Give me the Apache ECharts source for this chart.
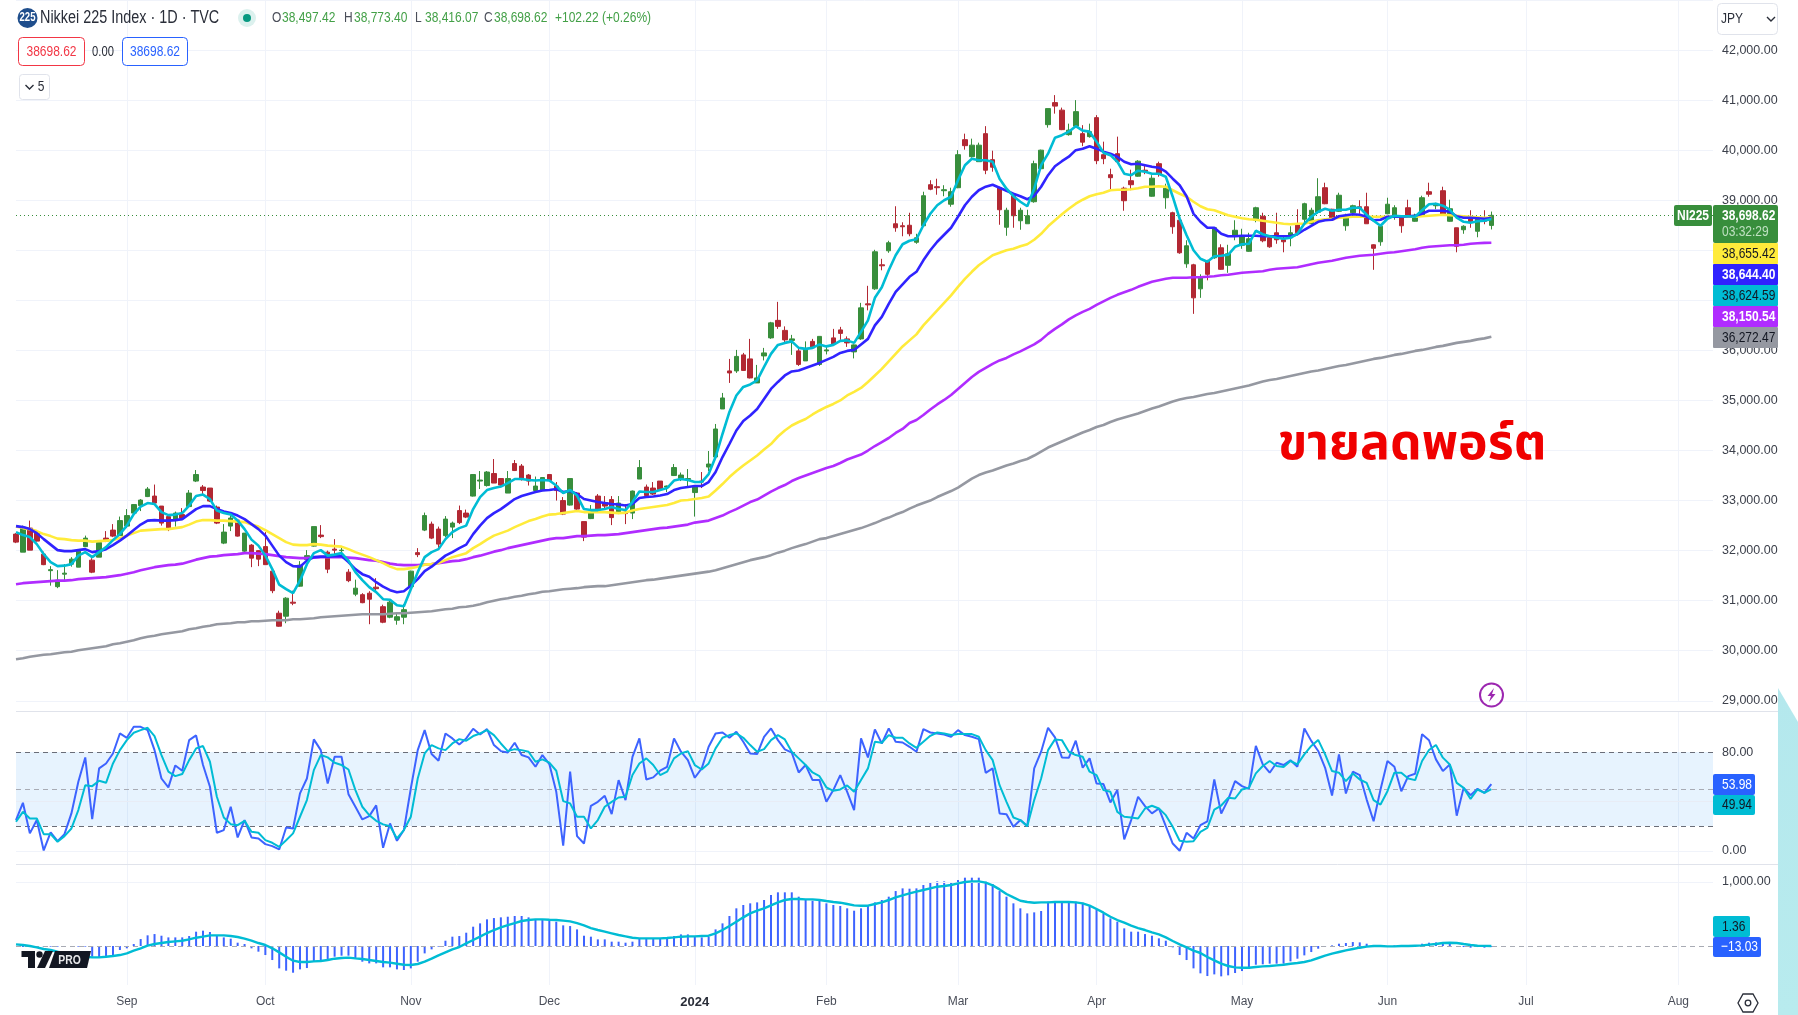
<!DOCTYPE html>
<html>
<head>
<meta charset="utf-8">
<title>Nikkei 225 Index</title>
<script src="https://cdn.jsdelivr.net/npm/echarts@6/dist/echarts.min.js"></script>
<style>
  html, body { margin: 0; padding: 0; background: #fff; }
  #chart { width: 1798px; height: 1015px; }
</style>
</head>
<body>
<div id="chart"></div>
<script>
// daily bars: open, close, low, high
const ohlc = [
  [32330,32170,32150,32350],[31970,32470,31970,32500],[32450,32010,32010,32600],[32350,32190,32180,32400],[31930,31720,31710,31980],
  [31600,31620,31300,31690],[31280,31410,31250,31610],[31530,31550,31410,31730],[31730,31830,31680,31870],[31670,31990,31670,32030],
  [32080,32250,32070,32300],[31810,31570,31550,31850],[31870,32160,31870,32190],[32250,32190,32170,32390],[32410,32290,32270,32530],
  [32300,32600,32300,32680],[32490,32700,32450,32830],[32750,32920,32700,32930],[32900,33010,32790,33030],[33080,33230,33070,33270],
  [33090,32950,32930,33320],[32890,32550,32500,32890],[32680,32430,32390,32700],[32600,32750,32480,32780],[32720,32650,32610,32850],
  [32880,33150,32870,33210],[33390,33520,33370,33610],[33270,33200,33130,33310],[33250,32990,32970,33250],[32870,32550,32530,32900],
  [32150,32370,32130,32530],[32490,32650,32390,32700],[32610,32290,32280,32630],[31990,32350,31970,32350],[32110,31850,31670,32130],
  [32000,31830,31690,32010],[32080,31720,31720,32370],[31590,31200,31150,31590],[30750,30490,30480,30800],[30690,31050,30550,31070],
  [30970,30950,30910,31200],[31290,31710,31280,31790],[31820,31900,31800,32010],[32090,32480,32080,32480],[32310,32280,32250,32510],
  [31970,31630,31550,32000],[32030,32010,31900,32230],[32000,32010,31900,32090],[31570,31400,31370,31630],[31130,31250,31090,31420],
  [31120,30960,30950,31150],[31150,31030,30530,31190],[31270,31240,31190,31450],[30880,30570,30550,30920],[30670,30970,30650,31030],
  [30610,30680,30520,30770],[30670,30820,30530,30930],[31280,31590,31270,31600],[31960,31920,31870,32050],[32410,32700,32390,32760],
  [32530,32250,32230,32580],[32430,32130,32050,32480],[32300,32630,32270,32690],[32470,32550,32250,32580],[32800,32560,32530,32900],
  [32750,32670,32650,32820],[33090,33520,33080,33530],[33390,33410,33230,33590],[33300,33570,33280,33590],[33540,33350,33350,33830],
  [33440,33310,33260,33450],[33150,33440,33150,33590],[33740,33600,33590,33810],[33690,33420,33400,33730],[33510,33390,33300,33530],
  [33200,33290,33170,33480],[33200,33460,33190,33470],[33520,33400,33390,33530],[33290,33200,33000,33370],[33000,32730,32710,33070],
  [32910,33440,32900,33450],[33150,32830,32810,33170],[32580,32270,32190,32580],[32640,32770,32630,32910],[33090,32810,32790,33130],
  [32960,32890,32850,33090],[33020,32660,32510,33090],[32750,32950,32730,33090],[32770,32740,32530,32930],[32750,33190,32630,33200],
  [33430,33660,33430,33810],[33270,33100,33080,33320],[33250,33130,33110,33370],[33390,33220,33210,33390],[33270,33290,33170,33300],
  [33500,33660,33490,33730],[33440,33510,33390,33560],[33420,33440,33290,33630],[33160,33270,32680,33300],[33390,33370,33250,33570],
  [33670,33730,33590,33990],[33870,34430,33870,34530],[34830,35050,34830,35150],[35590,35550,35350,35830],[35590,35880,35550,36010],
  [35910,35600,35590,35950],[35830,35450,35440,36230],[35350,35450,35350,35710],[35890,35950,35800,36050],[36250,36550,36230,36570],
  [36600,36480,36430,36970],[36400,36210,36130,36480],[36200,36230,35910,36310],[35990,35720,35690,36050],[35790,36030,35790,36180],
  [36180,36050,36030,36230],[35720,36280,35690,36280],[35990,36010,35920,36100],[36250,36130,36110,36430],[36410,36340,36210,36470],
  [36230,36150,36070,36280],[35970,36110,35840,36120],[36230,36850,36210,36950],[36930,36910,36800,37290],[37230,37970,37210,38010],
  [37710,37690,37600,37830],[37990,38150,37950,38190],[38530,38450,38370,38880],[38490,38470,38280,38560],[38500,38330,38280,38750],
  [38160,38250,38130,38330],[38490,39090,38480,39170],[39310,39220,39200,39400],[39270,39250,39110,39430],[39190,39210,39080,39300],
  [38920,39170,38870,39250],[39250,39910,39240,40000],[40210,40090,40010,40330],[39870,40100,39850,40230],[39770,40100,39770,40150],
  [40330,39600,39520,40480],[39810,39660,39570,39990],[39250,38810,38510,39270],[38460,38800,38290,38850],[39090,38690,38450,39130],
  [38590,38800,38410,38850],[38530,38690,38530,38810],[38970,39730,38950,39790],[39630,40000,39610,40010],[40510,40830,40450,40830],
  [40950,40880,40730,41100],[40800,40410,40400,40850],[40310,40400,40290,40530],[40480,40770,40450,41000],[40330,40160,40080,40500],
  [40270,40370,40250,40530],[40650,39790,39720,40700],[39910,39830,39720,40170],[39510,39450,39220,39630],[39930,39770,39770,40270],
  [39240,38990,38790,39270],[39390,39310,39200,39610],[39480,39780,39470,39800],[39600,39580,39520,39700],[39080,39440,39070,39500],
  [39730,39520,39470,39770],[39050,39240,38830,39330],[38750,38470,38330,38770],[38600,37950,37930,38610],[37730,38090,37650,38200],
  [37710,37050,36730,37730],[37230,37450,37050,37520],[37790,37520,37400,37810],[37850,38450,37830,38460],[38050,37620,37610,38120],
  [37700,37930,37550,38110],[38280,38400,38200,38600],[38100,38280,38030,38430],[37980,38230,37970,38350],[38600,38850,38560,38870],
  [38680,38190,38160,38750],[38250,38070,38050,38270],[38350,38210,38130,38750],[38210,38170,37960,38300],[38250,38350,38080,38480],
  [38530,38350,38300,38820],[38620,38930,38530,38950],[38530,38800,38520,38850],[38760,39070,38730,39440],[39250,38930,38920,39350],
  [38820,38610,38600,38830],[38780,39100,38770,39150],[38490,38680,38390,38730],[38750,38890,38670,38910],[38870,38850,38730,39000],
  [38870,38530,38530,39150],[38110,38040,37610,38120],[38170,38480,38090,38500],[38730,38920,38720,39050],[38670,38850,38610,38900],
  [38650,38490,38350,38670],[38850,38680,38670,39010],[38580,38700,38570,38730],[38700,39050,38690,39090],[39170,39120,39070,39350],
  [38890,38910,38820,38950],[39190,38710,38700,39270],[38580,38830,38570,39010],[38450,38080,37960,38450],[38410,38480,38330,38500],
  [38650,38560,38450,38800],[38380,38620,38260,38670],[38600,38580,38520,38800],[38497.42,38698.62,38416.07,38773.40]
];

const maTeal = [
  32370,32310,32270,32130,31930,31770,31690,31700,31730,31900,
  31970,31870,31970,32070,32210,32330,32500,32730,32880,32950,
  32930,32770,32710,32720,32750,32900,33090,33120,33030,32800,
  32750,32720,32600,32430,32220,32100,31900,31630,31320,31230,
  31150,31400,31730,31950,32010,31900,31920,31950,31800,31570,
  31410,31270,31170,31030,31020,30910,30890,31230,31570,31870,
  31970,32030,32230,32370,32450,32500,32830,33070,33210,33250,
  33280,33350,33430,33430,33410,33400,33410,33400,33300,33150,
  33210,33100,32830,32810,32810,32830,32870,32830,32810,32970,
  33180,33170,33170,33210,33250,33400,33430,33410,33370,33370,
  33530,33870,34330,34770,35100,35270,35320,35400,35670,35930,
  36110,36150,36180,36050,36030,36050,36120,36080,36110,36190,
  36200,36150,36370,36600,37050,37260,37600,37900,38120,38190,
  38220,38500,38730,38900,39000,39070,39400,39700,39830,39800,
  39800,39770,39430,39230,39080,38970,38880,39230,39700,39930,
  40250,40300,40370,40480,40390,40370,40170,39950,39900,39770,
  39530,39500,39590,39570,39530,39530,39470,39070,38630,38300,
  38000,37830,37770,37880,37890,37910,38070,38120,38130,38390,
  38320,38280,38250,38230,38250,38330,38530,38670,38770,38830,
  38790,38810,38810,38850,38850,38710,38590,38490,38630,38690,
  38680,38680,38670,38800,38920,38930,38890,38810,38650,38570,
  38550,38580,38590,38624.59
];

const maBlue = [
  32490,32470,32430,32350,32230,32120,32010,31990,31990,32010,
  32030,31970,31990,32030,32110,32200,32300,32410,32520,32600,
  32610,32600,32600,32610,32630,32730,32830,32890,32890,32830,
  32780,32750,32700,32630,32530,32430,32300,32100,31900,31770,
  31690,31680,31800,31870,31880,31880,31890,31890,31770,31630,
  31530,31480,31370,31280,31210,31170,31190,31300,31430,31590,
  31680,31790,31900,31970,32050,32120,32330,32500,32650,32750,
  32830,32930,33030,33090,33130,33170,33200,33210,33230,33170,
  33190,33130,33030,33000,32970,32950,32930,32920,32900,32930,
  33050,33070,33080,33100,33130,33210,33250,33270,33290,33290,
  33370,33570,33870,34130,34400,34590,34700,34830,35030,35230,
  35370,35500,35580,35600,35650,35700,35750,35810,35870,35950,
  35990,36010,36120,36230,36500,36670,36930,37170,37320,37470,
  37570,37800,38000,38170,38310,38450,38670,38900,39070,39200,
  39270,39310,39250,39190,39130,39080,39020,39090,39270,39500,
  39680,39780,39870,40000,40030,40080,40030,39970,39930,39870,
  39770,39720,39730,39700,39670,39650,39570,39430,39300,39080,
  38730,38570,38450,38450,38330,38280,38280,38290,38290,38290,
  38280,38280,38280,38280,38280,38320,38410,38490,38570,38600,
  38610,38680,38700,38720,38710,38670,38600,38610,38670,38670,
  38670,38680,38690,38730,38790,38790,38790,38770,38680,38650,
  38650,38640,38630,38644.40
];

const maYellow = [
  32480,32450,32430,32390,32330,32290,32240,32230,32210,32200,
  32200,32180,32190,32200,32210,32250,32300,32350,32400,32410,
  32420,32430,32430,32450,32470,32520,32580,32610,32610,32600,
  32600,32590,32580,32570,32520,32480,32410,32330,32250,32170,
  32120,32110,32110,32130,32120,32100,32090,32080,32030,31970,
  31920,31870,31810,31750,31680,31630,31630,31650,31680,31720,
  31730,31750,31810,31870,31910,31950,32050,32130,32220,32300,
  32350,32400,32470,32530,32590,32630,32680,32720,32730,32750,
  32770,32790,32770,32770,32770,32770,32760,32750,32760,32800,
  32830,32850,32870,32890,32910,32950,33000,33010,33030,33050,
  33080,33200,33330,33470,33590,33700,33800,33900,34020,34130,
  34280,34400,34500,34570,34630,34720,34800,34870,34930,35000,
  35100,35170,35250,35370,35500,35630,35780,35930,36080,36200,
  36320,36500,36650,36800,36950,37100,37270,37430,37570,37700,
  37800,37900,37950,38000,38030,38080,38120,38210,38330,38480,
  38600,38720,38830,38930,39010,39080,39120,39150,39200,39210,
  39210,39220,39240,39270,39270,39280,39270,39200,39130,39070,
  38970,38880,38820,38800,38750,38700,38670,38640,38620,38610,
  38590,38570,38550,38530,38520,38530,38530,38570,38600,38620,
  38630,38650,38660,38670,38670,38670,38670,38670,38670,38670,
  38670,38670,38670,38680,38690,38700,38710,38700,38690,38680,
  38670,38660,38650,38655.42
];

const maPurple = [
  31330,31350,31360,31370,31380,31390,31400,31400,31410,31430,
  31440,31450,31460,31470,31490,31510,31540,31570,31610,31640,
  31670,31690,31710,31720,31740,31780,31820,31850,31880,31890,
  31910,31920,31930,31950,31950,31940,31930,31910,31890,31870,
  31860,31850,31850,31860,31870,31870,31870,31870,31860,31850,
  31830,31810,31800,31770,31740,31720,31710,31710,31710,31720,
  31730,31750,31770,31790,31800,31830,31870,31900,31940,31980,
  32010,32050,32080,32110,32140,32170,32200,32230,32250,32250,
  32270,32290,32290,32300,32310,32310,32320,32330,32350,32370,
  32390,32410,32430,32450,32460,32480,32500,32520,32560,32580,
  32600,32650,32700,32770,32830,32900,32970,33020,33100,33180,
  33250,33310,33390,33450,33500,33550,33600,33650,33690,33750,
  33820,33870,33920,34000,34090,34170,34250,34350,34430,34550,
  34610,34710,34820,34920,35010,35110,35230,35350,35470,35570,
  35650,35730,35800,35850,35920,35980,36050,36120,36210,36330,
  36430,36520,36620,36700,36770,36830,36910,36980,37050,37110,
  37160,37210,37270,37320,37370,37400,37430,37450,37450,37450,
  37460,37460,37470,37480,37500,37510,37530,37550,37560,37570,
  37580,37610,37630,37640,37650,37660,37690,37720,37750,37770,
  37790,37820,37850,37870,37890,37900,37910,37930,37950,37960,
  37980,38000,38020,38050,38070,38080,38090,38100,38100,38110,
  38130,38140,38148,38150.54
];

const maGray = [
  29830,29850,29880,29900,29920,29930,29950,29970,29980,30010,
  30030,30050,30070,30090,30130,30150,30180,30210,30250,30280,
  30300,30330,30350,30370,30390,30430,30450,30480,30500,30530,
  30540,30550,30570,30570,30590,30590,30600,30610,30610,30610,
  30630,30630,30640,30650,30670,30680,30690,30700,30710,30720,
  30730,30730,30730,30730,30740,30750,30750,30760,30770,30780,
  30790,30810,30830,30840,30870,30880,30900,30930,30970,31000,
  31030,31050,31080,31100,31130,31150,31180,31190,31210,31230,
  31240,31250,31270,31280,31290,31290,31310,31330,31350,31370,
  31390,31410,31420,31440,31460,31480,31500,31520,31540,31560,
  31580,31610,31650,31690,31730,31770,31810,31840,31870,31910,
  31960,32000,32050,32090,32130,32180,32230,32250,32290,32330,
  32370,32410,32450,32500,32550,32610,32660,32720,32770,32840,
  32900,32950,33000,33070,33130,33190,33260,33350,33440,33510,
  33560,33600,33650,33700,33740,33790,33830,33900,33980,34060,
  34120,34180,34240,34300,34360,34410,34470,34510,34570,34620,
  34660,34700,34740,34790,34840,34880,34930,34980,35020,35050,
  35070,35100,35130,35150,35180,35210,35240,35270,35300,35340,
  35380,35410,35430,35460,35490,35520,35550,35580,35600,35630,
  35660,35690,35710,35740,35770,35800,35830,35850,35880,35910,
  35930,35960,35990,36010,36040,36070,36090,36120,36150,36170,
  36190,36220,36240,36272.47
];

const stochK = [
  24.9,38.9,14.1,24.9,0.3,14.9,7.8,13.5,30.3,55.9,
  75.7,25.7,66.8,70.8,78.9,95.1,91.6,100.5,100.5,97.8,
  81.6,58.6,51.4,69.2,64.9,89.7,93.5,69.5,51.9,14.6,
  16.8,35.7,10.8,24.9,10.8,10,5.4,3.8,1.1,18.9,
  18.1,46.5,58.6,90.3,81.6,54.6,76.2,76.2,45.9,35.7,
  25.4,28.1,36.8,2.4,22.2,8.1,16.8,50.5,81.6,97.8,
  78.4,73,95.1,91.1,86.2,91.1,98.9,94.3,98.6,85.7,
  80.8,79.7,87.6,77.6,75.7,68.1,77.6,70.3,47.8,4.1,
  64.1,11.9,5.9,36.5,39.7,
  44.6,29.7,57.3,41.1,76.2,91.1,57.8,59.5,64.9,68.1,
  91.1,80.3,73.5,59.2,66.8,84.3,95.1,95.9,91.6,96.5,
  88.4,78.9,78.4,92.4,99.2,89.7,82.2,79.5,63.5,69.5,
  57.3,57.3,39.7,49.2,61.4,47.8,33,91.1,75.7,98.4,
  87,99.2,88.4,87.8,84.3,80.3,98.6,95.9,95.1,94.3,
  92.4,97.8,93.8,92.4,90.5,63.2,66.8,30.3,29.7,19.5,
  24.9,20,66.8,80.3,99.7,91.9,75.7,75.4,89.2,67.3,
  74.9,54.6,54.1,39.2,49.2,9.2,24.9,43.8,36.2,30.3,
  34.3,20,5.9,0,14.6,10,20.8,
  23.9,57.8,30.1,41.5,56.5,52.4,50.2,85,70,63.3,
  71.4,69.5,73.3,68.2,99.1,89.1,80.9,67.3,44.8,78.2,
  46.4,64.1,61.4,41.5,23.9,49.7,72.8,68.2,48.3,60.5,
  62.4,94.5,89.6,74.1,64.6,70,28.5,51,45.1,50.2,
  47,53.98
];

const stochD = [
  23.5,31.6,26.2,26.2,13.5,13.5,7.3,11.9,18.1,33,
  53.2,52.4,56.8,55.1,70.8,81.6,89.7,95.7,97.8,99.7,
  93,77.6,64.1,60.5,62.2,73.5,83,84.9,72.2,43.8,
  27,21.6,20.8,24.3,15.4,14.6,8.6,6.5,3.2,8.6,
  14.1,27.6,41.1,65.4,77.6,75.7,71.4,69.5,65.9,49.2,
  35.7,28.9,24.3,21.4,20,10,16.8,27.6,58.6,78.9,
  85.7,83,81.6,87,90.5,89.2,93,95.1,97.8,93.8,
  87,80.8,82.4,81.6,80.3,72.2,74.1,71.4,64.9,40.3,
  38.4,27.6,27.6,18.1,24.9,
  35.7,39.7,43.2,43.8,61.4,70.8,74.9,69.5,61.4,64.1,
  74.9,78.9,80.8,69.5,65.9,70.8,83,91.6,93.8,95.1,
  91.6,85.7,80.3,82.4,89.7,93.8,90.3,80.3,74.9,69.5,
  63.5,60.5,51.4,48.6,49.7,53,47.8,57.3,66.8,88.4,
  87.6,93.8,91.6,91.6,87,83.5,88.4,93.2,95.9,95.1,
  93.8,94.6,94.6,94.6,92.4,81.6,73.5,53.2,39.7,27,
  24.9,20,41.1,58.6,81.6,90.3,89.7,80.3,77.6,76.2,
  64.1,61.4,49.2,47.8,31.6,27.6,27,26.2,34.3,36.5,
  34.3,28.9,19.5,8.1,7.3,7.8,15.4,
  18.5,33.4,36.7,42.9,42.4,49.7,51,62.7,68.7,72.8,
  68.7,67.9,72.8,70,78.2,85,89.9,78.2,64.6,63.3,
  56.5,62.7,57.8,55.1,41,37.5,48.3,63.3,63.3,58.6,
  57.3,72.8,81.7,85.8,75.5,70,55.1,51,42.1,49.7,
  47,49.94
];

const macdHist = [
  0,-15,-15,-10,-10,-10,-10,-10,-10,-10,-10,
  -167,-177,-167,-141,-62,-36,31,109,167,187,
  161,135,135,135,156,224,240,219,172,135,
  115,52,31,-36,-88,-141,-219,-349,-385,-417,
  -365,-344,-234,-229,-208,-167,-151,-151,-193,-245,
  -271,-271,-333,-333,-365,-375,-349,-245,-115,-52,
  -10,83,146,156,208,302,354,417,437,448,
  458,469,469,448,417,406,396,380,323,312,
  260,161,146,104,
  104,68,68,52,68,120,120,120,120,120,
  156,182,182,146,135,146,260,354,469,589,
  641,667,682,719,797,839,839,839,771,719,
  708,719,667,641,625,589,552,589,625,682,
  719,771,859,901,896,901,953,990,1010,1010,
  995,1031,1068,1068,1068,1005,969,859,771,667,
  589,510,526,547,693,698,698,693,693,677,
  641,573,510,432,380,276,224,224,187,161,
  120,83,-21,-141,-219,-349,-427,
  -469,-443,-474,-458,-422,-391,-359,-292,-286,-276,
  -276,-276,-240,-198,-146,-94,-42,-10,10,36,
  47,62,57,36,-16,-5,-5,10,0,5,
  5,36,52,57,52,36,0,-16,-26,-16,
  -26,-13.03
];

const macdLine = [
  26,16,0,-21,-47,-62,-89,-115,-141,-156,
  -167,-177,-177,-167,-156,-141,-115,-73,-36,5,
  31,47,62,73,83,104,130,146,167,167,
  167,156,141,115,83,47,16,-36,-99,-167,
  -229,-250,-250,-240,-234,-219,-198,-187,-182,-193,
  -203,-219,-234,-250,-260,-276,-292,-297,-281,-245,
  -198,-146,-99,-52,-16,42,94,146,203,250,
  292,328,359,391,406,417,417,411,406,396,
  385,359,323,281,250,
  224,198,172,151,130,120,120,120,120,125,
  135,146,151,151,156,161,198,250,312,380,
  448,510,552,589,635,682,719,734,734,729,
  729,719,703,688,677,656,635,630,630,656,
  682,719,760,792,823,849,875,901,927,937,
  953,979,1000,1010,1010,990,948,885,813,760,
  708,688,677,682,682,688,688,688,682,667,
  630,578,521,458,406,365,318,281,250,214,
  182,135,78,26,-21,-73,-109,
  -172,-224,-276,-312,-333,-339,-339,-328,-318,-312,
  -302,-292,-276,-266,-250,-224,-187,-151,-120,-94,
  -68,-47,-26,-10,0,0,-5,-5,0,0,
  5,10,21,31,47,52,47,31,16,5,
  2,1.36
];

// bar index -> month label on the time axis
const monthAt = { 16:"Sep", 36:"Oct", 57:"Nov", 77:"Dec", 98:"2024", 117:"Feb", 136:"Mar", 156:"Apr", 177:"May", 198:"Jun", 218:"Jul", 240:"Aug" };
const slotCount = 246;

const categories = [];
for (let i = 0; i < slotCount; i++) categories.push(monthAt[i] || "d" + i);

const FONT = '"Liberation Sans", sans-serif';
const CONDENSE = 0.8; // the source text is narrow, no narrow face is installed
const UP = "#388e3c";
const DOWN = "#b22833";
const GRID = "#f0f3fa";
const isMonth = (i) => monthAt[i] !== undefined;

function xAxisFor(gridIndex, withLabels) {
  return {
    type: "category",
    gridIndex: gridIndex,
    data: categories,
    boundaryGap: false,
    axisLine: { show: false },
    axisTick: { show: false },
    splitLine: { show: true, interval: isMonth, lineStyle: { color: GRID, width: 1 } },
    axisLabel: withLabels ? {
      show: true,
      interval: isMonth,
      margin: 11,
      fontFamily: FONT,
      fontSize: 12,
      color: "#4a4e59",
      formatter: (v) => (v === "2024" ? "{b|2024}" : v),
      rich: { b: { fontFamily: FONT, fontSize: 13, fontWeight: "bold", color: "#2a2e39" } },
    } : { show: false },
  };
}

function priceLabel(v) {
  return v.toLocaleString("en-US", { minimumFractionDigits: 2, maximumFractionDigits: 2 });
}

function maSeries(name, data, color) {
  return {
    name: name,
    type: "line",
    xAxisIndex: 0,
    yAxisIndex: 0,
    data: data,
    showSymbol: false,
    z: 5,
    lineStyle: { color: color, width: 2.6 },
  };
}

function hLine(value, color, type, width) {
  return { yAxis: value, lineStyle: { color: color, type: type, width: width || 1 } };
}

// ---- chrome around the plot: header, tags, icons, watermark ----
const chrome = [];
function box(x, y, w, h, fill, stroke, r) {
  chrome.push({ type: "rect", z: 100, shape: { x: x, y: y, width: w, height: h, r: r || 0 },
    style: { fill: fill, stroke: stroke || null, lineWidth: stroke ? 1 : 0 } });
}
function txt(x, y, text, color, size, align, weight) {
  chrome.push({ type: "text", z: 101, x: x, y: y, scaleX: CONDENSE,
    style: { text: text, fill: color, fontFamily: FONT, fontSize: size, fontWeight: weight || "normal",
      align: align || "left", verticalAlign: "middle" } });
}
function poly(points, fill) {
  chrome.push({ type: "polygon", z: 100, shape: { points: points }, style: { fill: fill } });
}
function chevron(x, y) {
  chrome.push({ type: "polyline", z: 101, shape: { points: [[x - 4, y - 2], [x, y + 2], [x + 4, y - 2]] },
    style: { stroke: "#2a2e39", lineWidth: 1.4, fill: null } });
}
function separator(y) {
  chrome.push({ type: "line", z: 20, shape: { x1: 16, y1: y, x2: 1778, y2: y }, style: { stroke: "#e0e3eb", lineWidth: 1 } });
}

separator(711.5);
separator(864.5);

// header row
chrome.push({ type: "circle", z: 100, shape: { cx: 27.5, cy: 18, r: 10 }, style: { fill: "#1f4e8c" } });
txt(27.5, 18, "225", "#fff", 12, "center", "bold");
txt(40, 18, "Nikkei 225 Index · 1D · TVC", "#2a2e39", 18);
chrome.push({ type: "circle", z: 100, shape: { cx: 247, cy: 18, r: 9 }, style: { fill: "#dcf1ee" } });
chrome.push({ type: "circle", z: 101, shape: { cx: 247, cy: 18, r: 4 }, style: { fill: "#089981" } });

const ohlcHeader = [
  [272, "O", "38,497.42"], [344, "H", "38,773.40"], [415, "L", "38,416.07"], [484, "C", "38,698.62"],
];
ohlcHeader.forEach(([x, k, v]) => {
  txt(x, 18, k, "#4a4e59", 15);
  txt(x + 10, 18, v, "#43a047", 15);
});
txt(555, 18, "+102.22 (+0.26%)", "#43a047", 15);

box(18.5, 37.5, 66, 28, "#fff", "#f23645", 4);
txt(51.5, 52, "38698.62", "#f23645", 15, "center");
txt(103, 52, "0.00", "#2a2e39", 14, "center");
box(122.5, 37.5, 65, 28, "#fff", "#2962ff", 4);
txt(155, 52, "38698.62", "#2962ff", 15, "center");
box(19.5, 74.5, 30, 25, "#fff", "#e0e3eb", 3);
chevron(29.5, 87);
txt(41, 87, "5", "#2a2e39", 15, "center");

box(1717.5, 3.5, 60, 31, "#fff", "#e0e3eb", 4);
txt(1721, 19, "JPY", "#2a2e39", 15);
chevron(1771, 19);

// price scale tags
const priceTags = [
  [243, "38,655.42", "#ffeb3b", "#131722"],
  [264, "38,644.40", "#3023ff", "#ffffff"],
  [285, "38,624.59", "#00bcd4", "#131722"],
  [306, "38,150.54", "#b02cff", "#ffffff"],
  [327, "36,272.47", "#9598a1", "#131722"],
];
box(1674, 205, 38, 21, UP, null, 2);
txt(1693, 215.5, "NI225", "#fff", 15, "center", "bold");
box(1713, 205, 65, 38, UP, null, 2);
txt(1722, 215.5, "38,698.62", "#fff", 15, "left", "bold");
txt(1722, 232, "03:32:29", "#bfe0c1", 15);
priceTags.forEach(([y, label, bg, fg]) => {
  box(1713, y, 65, 21, bg, null, 1);
  txt(1722, y + 10.5, label, fg, 15, "left", fg === "#ffffff" ? "bold" : "normal");
});

// stochastic and macd tags
box(1713, 774, 42, 21, "#2962ff", null, 2);
txt(1722, 784.5, "53.98", "#fff", 15);
box(1713, 795, 42, 20, "#00bcd4", null, 2);
txt(1722, 805, "49.94", "#131722", 15);
box(1713, 916, 37, 21, "#00bcd4", null, 2);
txt(1722, 926.5, "1.36", "#131722", 15);
box(1713, 937, 48, 20, "#2962ff", null, 2);
txt(1721, 947, "−13.03", "#fff", 15);

// sell note
chrome.push({ type: "text", z: 102, x: 1412, y: 449,
  style: { text: "ขายลดพอร์ต", fill: "#f00000", fontFamily: '"Noto Sans Thai", "Noto Sans", "DejaVu Sans", sans-serif',
    fontSize: 50, fontWeight: "bold", align: "center", verticalAlign: "middle" } });

// watermark
poly([[21.5, 951], [35, 951], [35, 968], [28, 968], [28, 957], [21.5, 957]], "#131722");
chrome.push({ type: "circle", z: 100, shape: { cx: 39.5, cy: 954.5, r: 3.2 }, style: { fill: "#131722" } });
poly([[45, 951], [53, 951], [45, 968], [37, 968]], "#131722");
poly([[55, 951], [91, 951], [87, 968], [49, 968]], "#131722");
txt(69.5, 960, "PRO", "#e8e8ea", 13, "center", "bold");

// lightning marker
chrome.push({ type: "circle", z: 100, shape: { cx: 1491.5, cy: 695, r: 11.5 }, style: { fill: "#fff", stroke: "#9c27b0", lineWidth: 2 } });
poly([[1494, 688], [1487.5, 696], [1491, 696], [1489, 702], [1495.5, 694], [1492, 694]], "#9c27b0");

// settings icon
chrome.push({ type: "polygon", z: 100, shape: { points: [[1743, 994], [1753, 994], [1758, 1003], [1753, 1012], [1743, 1012], [1738, 1003]] },
  style: { fill: "#fff", stroke: "#2a2e39", lineWidth: 1.3 } });
chrome.push({ type: "circle", z: 101, shape: { cx: 1748, cy: 1003, r: 2.8 }, style: { fill: "#fff", stroke: "#2a2e39", lineWidth: 1.3 } });

// corner decoration on the right
chrome.push({ type: "polygon", z: 100, shape: { points: [[1778, 688], [1798, 722], [1798, 1015], [1778, 1015]] },
  style: { fill: new echarts.graphic.LinearGradient(0, 0, 0, 1, [
    { offset: 0, color: "#b4e8ed" }, { offset: 1, color: "#b8ebee" },
  ]) } });

// ---- chart ----
const chart = echarts.init(document.getElementById("chart"), null, { renderer: "canvas" });

const yLabel = { margin: 9, fontFamily: FONT, fontSize: 12.5, color: "#3c404b" };

chart.setOption({
  animation: false,
  backgroundColor: "#ffffff",
  grid: [
    { left: 16, right: 85, top: 0, height: 700.8 },
    { left: 16, right: 85, top: 712, height: 152 },
    { left: 16, right: 85, top: 865, height: 120 },
  ],
  xAxis: [xAxisFor(0, false), xAxisFor(1, false), xAxisFor(2, true)],
  yAxis: [
    {
      gridIndex: 0,
      type: "value",
      position: "right",
      min: 29000,
      max: 43000,
      interval: 1000,
      axisLine: { show: false },
      axisTick: { show: false },
      splitLine: { show: true, lineStyle: { color: GRID, width: 1 } },
      axisLabel: { ...yLabel, formatter: (v) => (v >= 43000 ? "" : priceLabel(v)) },
    },
    {
      gridIndex: 1,
      type: "value",
      position: "right",
      min: -10.7,
      max: 112.5,
      axisLine: { show: false },
      axisTick: { show: false },
      splitLine: { show: false },
      axisLabel: { ...yLabel, customValues: [0, 80], formatter: (v) => v.toFixed(2) },
    },
    {
      gridIndex: 2,
      type: "value",
      position: "right",
      min: -609,
      max: 1266,
      axisLine: { show: false },
      axisTick: { show: false },
      splitLine: { show: false },
      axisLabel: { ...yLabel, customValues: [1000], formatter: (v) => priceLabel(v) },
    },
  ],
  series: [
    {
      name: "NI225",
      type: "candlestick",
      xAxisIndex: 0,
      yAxisIndex: 0,
      data: ohlc,
      barWidth: 5,
      z: 3,
      itemStyle: { color: UP, color0: DOWN, borderColor: UP, borderColor0: DOWN, borderWidth: 1 },
      markLine: {
        silent: true,
        symbol: "none",
        label: { show: false },
        data: [{ yAxis: 38698.62, lineStyle: { color: UP, type: [1, 3], width: 1 } }],
      },
    },
    maSeries("MA 200", maGray, "#9598a1"),
    maSeries("MA 50", maPurple, "#b02cff"),
    maSeries("MA 25", maYellow, "#ffeb3b"),
    maSeries("MA 10", maBlue, "#3023ff"),
    maSeries("MA 5", maTeal, "#00bcd4"),
    {
      name: "%K",
      type: "line",
      xAxisIndex: 1,
      yAxisIndex: 1,
      data: stochK,
      showSymbol: false,
      z: 5,
      lineStyle: { color: "#3d63ff", width: 2 },
      markArea: {
        silent: true,
        itemStyle: { color: "rgba(33,150,243,0.11)" },
        data: [[{ yAxis: 20 }, { yAxis: 80 }]],
      },
      markLine: {
        silent: true,
        symbol: "none",
        label: { show: false },
        data: [
          hLine(0, GRID, "solid"),
          hLine(40, "#e8ecf5", "solid"),
          hLine(80, "#6a6d78", [5, 4], 1.2),
          hLine(50, "#a8abb4", [5, 4], 1.2),
          hLine(20, "#6a6d78", [5, 4], 1.2),
        ],
      },
    },
    {
      name: "%D",
      type: "line",
      xAxisIndex: 1,
      yAxisIndex: 1,
      data: stochD,
      showSymbol: false,
      z: 6,
      lineStyle: { color: "#00bcd4", width: 2 },
    },
    {
      name: "Histogram",
      type: "bar",
      xAxisIndex: 2,
      yAxisIndex: 2,
      data: macdHist,
      barWidth: 2,
      z: 3,
      itemStyle: { color: "#3d63ff" },
      markLine: {
        silent: true,
        symbol: "none",
        label: { show: false },
        data: [hLine(1000, GRID, "solid"), hLine(0, "#a8abb4", [5, 4], 1.2)],
      },
    },
    {
      name: "MACD",
      type: "line",
      xAxisIndex: 2,
      yAxisIndex: 2,
      data: macdLine,
      showSymbol: false,
      z: 6,
      lineStyle: { color: "#00bcd4", width: 2.4 },
    },
  ],
  graphic: chrome,
});

window.addEventListener("resize", () => chart.resize());
</script>
</body>
</html>
